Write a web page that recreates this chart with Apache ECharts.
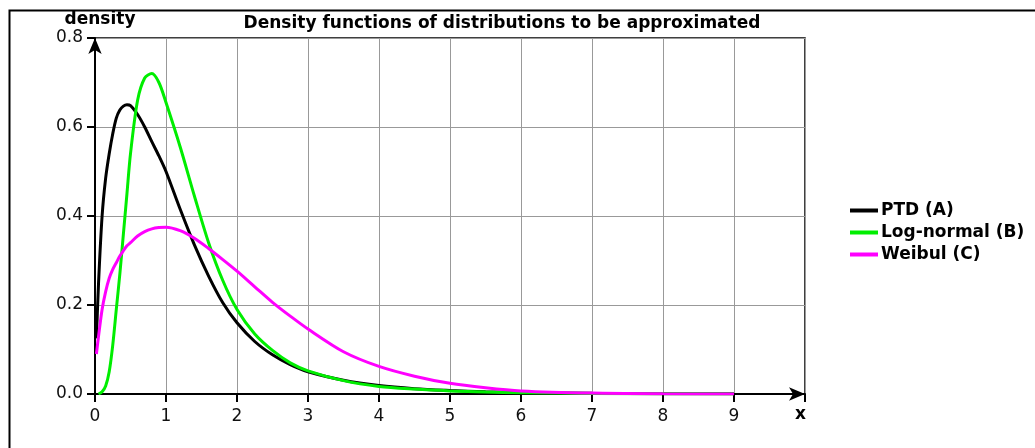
<!DOCTYPE html>
<html>
<head>
<meta charset="utf-8">
<script src="https://cdn.jsdelivr.net/npm/echarts@6/dist/echarts.min.js"></script>
<style>
  html, body { margin: 0; padding: 0; background: #fff; }
  #chart { width: 1035px; height: 448px; }
</style>
</head>
<body>
<div id="chart"></div>
<script>
// x positions where the curves were read
const xs = [0.02, 0.05, 0.1, 0.15, 0.2, 0.25, 0.3, 0.35, 0.4, 0.45, 0.5, 0.6, 0.7, 0.8, 0.9,
  1.0, 1.2, 1.4, 1.6, 1.8, 2.0, 2.25, 2.5, 2.75, 3.0, 3.5, 4.0, 4.5, 5.0, 5.5, 6.0, 7.0, 8.0, 9.0];

const ptd = [0.125, 0.25, 0.40, 0.485, 0.54, 0.585, 0.62, 0.638, 0.647, 0.65, 0.648, 0.628, 0.60, 0.567, 0.535,
  0.50, 0.415, 0.335, 0.265, 0.205, 0.16, 0.118, 0.088, 0.066, 0.05, 0.031, 0.019, 0.012, 0.008, 0.005, 0.0035, 0.0015, 0.0007, 0.0003];

const logNormal = [null, 0.0, 0.005, 0.018, 0.05, 0.11, 0.19, 0.27, 0.36, 0.45, 0.54, 0.66, 0.71, 0.72, 0.70,
  0.655, 0.555, 0.445, 0.34, 0.255, 0.19, 0.135, 0.098, 0.07, 0.052, 0.03, 0.017, 0.011, 0.007, 0.0045, 0.003, 0.0012, 0.0005, 0.0002];

const weibull = [0.09, 0.13, 0.19, 0.23, 0.26, 0.28, 0.295, 0.31, 0.322, 0.333, 0.34, 0.355, 0.365, 0.371, 0.374,
  0.375, 0.367, 0.35, 0.327, 0.302, 0.276, 0.241, 0.206, 0.175, 0.146, 0.095, 0.062, 0.04, 0.024, 0.014, 0.007, 0.002, 0.0005, 0.0001];

const yTicks = [0, 0.2, 0.4, 0.6, 0.8];
const xTicks = [0, 1, 2, 3, 4, 5, 6, 7, 8, 9];

const font = 'DejaVu Sans';

function pairs(ys) {
  return xs.map((x, i) => [x, ys[i]]);
}

function line(name, color, ys) {
  return {
    name: name,
    type: 'line',
    data: pairs(ys),
    symbol: 'none',
    smooth: 0.3,
    lineStyle: { color: color, width: 3 },
    itemStyle: { color: color },
    z: 5
  };
}

let chart = echarts.init(document.getElementById('chart'));
chart.setOption({
  animation: false,
  backgroundColor: '#fff',
  title: {
    text: 'Density functions of distributions to be approximated',
    left: 497,
    top: 10,
    textAlign: 'center',
    textStyle: { fontFamily: font, fontWeight: 'bold', fontSize: 17, color: '#000' }
  },
  legend: {
    orient: 'vertical',
    left: 845,
    top: 197,
    icon: 'rect',
    itemWidth: 28,
    itemHeight: 4,
    itemGap: 5,
    textStyle: { fontFamily: font, fontWeight: 'bold', fontSize: 17, color: '#000', padding: [0, 0, 0, -2] },
    data: ['PTD (A)', 'Log-normal (B)', 'Weibul (C)']
  },
  grid: {
    left: 95, top: 38, right: 230, bottom: 54,
    show: true, borderColor: '#000', borderWidth: 1.5
  },
  xAxis: {
    type: 'value',
    min: 0, max: 10, interval: 1,
    axisLine: { show: true, lineStyle: { color: '#000', width: 2 }, symbol: ['none', 'arrow'], symbolSize: [10, 16] },
    axisTick: { show: true, length: 8, lineStyle: { color: '#000', width: 2 } },
    axisLabel: {
      margin: 14, fontFamily: font, fontSize: 17, color: '#111',
      formatter: v => xTicks.includes(v) ? String(v) : ''
    },
    splitLine: { show: true, lineStyle: { color: '#999', width: 1 } }
  },
  yAxis: {
    type: 'value',
    min: 0, max: 0.8, interval: 0.2,
    name: 'density',
    nameLocation: 'end',
    nameGap: 10,
    nameTextStyle: { fontFamily: font, fontWeight: 'bold', fontSize: 17, color: '#000', align: 'center', padding: [0, 0, 0, 10] },
    axisLine: { show: true, lineStyle: { color: '#000', width: 2 }, symbol: ['none', 'arrow'], symbolSize: [10, 16] },
    axisTick: { show: true, length: 8, lineStyle: { color: '#000', width: 2 } },
    axisLabel: {
      margin: 12, fontFamily: font, fontSize: 17, color: '#111',
      formatter: v => yTicks.some(t => Math.abs(t - v) < 1e-9) ? v.toFixed(1) : ''
    },
    splitLine: { show: true, lineStyle: { color: '#999', width: 1 } }
  },
  graphic: [
    {
      type: 'rect',
      left: 7, top: 8,
      shape: { width: 1100, height: 500 },
      style: { fill: 'none', stroke: '#000', lineWidth: 2 },
      z: 100
    },
    {
      type: 'text',
      left: 795, top: 406,
      style: { text: 'x', font: 'bold 17px "DejaVu Sans"', fill: '#000' }
    }
  ],
  series: [
    line('PTD (A)', '#000000', ptd),
    line('Log-normal (B)', '#00ee00', logNormal),
    line('Weibul (C)', '#ff00ff', weibull)
  ]
});
</script>
</body>
</html>
